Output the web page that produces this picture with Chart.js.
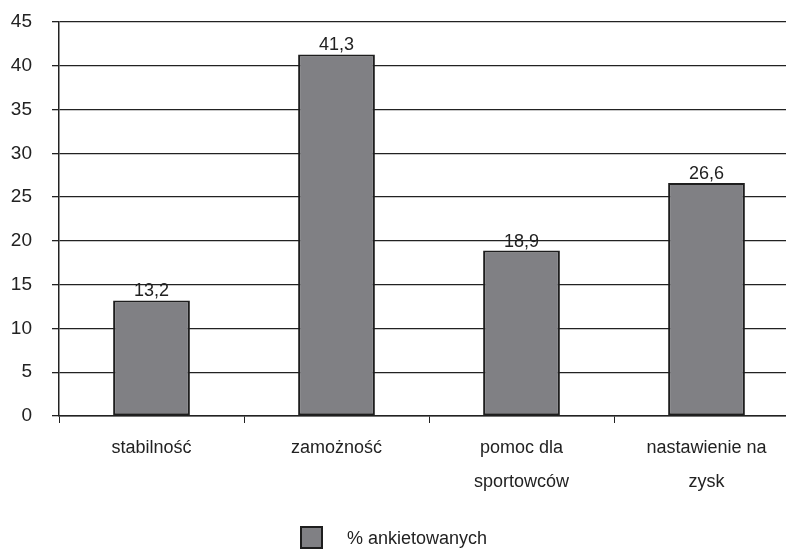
<!DOCTYPE html>
<html>
<head>
<meta charset="utf-8">
<script src="https://cdn.jsdelivr.net/npm/chart.js@4"></script>
<style>
  html, body { margin: 0; padding: 0; background: #fff; overflow: hidden; }
  #wrap { position: relative; width: 800px; height: 549px; }
</style>
</head>
<body>
<div id="wrap"><canvas id="c"></canvas></div>
<script>
const categories = ['stabilność', 'zamożność', ['pomoc dla', 'sportowców'], ['nastawienie na', 'zysk']];
const seriesName = '% ankietowanych';
const values = [13.2, 41.3, 18.9, 26.6];
const yTicks = [0, 5, 10, 15, 20, 25, 30, 35, 40, 45];

const FONT = '"Liberation Sans", Arial, sans-serif';
const BAR_FILL = '#808084';
const BAR_EDGE = '#1e1e1e';
const INK = '#222';

// value labels above bars, with a decimal comma
const valueLabels = {
  id: 'valueLabels',
  afterDatasetsDraw(chart) {
    const ctx = chart.ctx;
    const meta = chart.getDatasetMeta(0);
    ctx.save();
    ctx.font = '18px ' + FONT;
    ctx.fillStyle = INK;
    ctx.textAlign = 'center';
    ctx.textBaseline = 'alphabetic';
    meta.data.forEach((bar, i) => {
      const txt = values[i].toFixed(1).replace('.', ',');
      ctx.fillText(txt, bar.x, bar.y - 4);
    });
    ctx.restore();
  }
};

// legend row below the chart
const bottomLegend = {
  id: 'bottomLegend',
  afterDraw(chart) {
    const ctx = chart.ctx;
    ctx.save();
    ctx.fillStyle = BAR_FILL;
    ctx.strokeStyle = BAR_EDGE;
    ctx.lineWidth = 2;
    ctx.fillRect(301, 527, 21, 21);
    ctx.strokeRect(301, 527, 21, 21);
    ctx.fillStyle = INK;
    ctx.font = '18px ' + FONT;
    ctx.textAlign = 'left';
    ctx.textBaseline = 'alphabetic';
    ctx.fillText(chart.data.datasets[0].label, 347, 544);
    ctx.restore();
  }
};

new Chart(document.getElementById('c'), {
  type: 'bar',
  data: {
    labels: categories,
    datasets: [{
      label: seriesName,
      data: values,
      backgroundColor: BAR_FILL,
      borderColor: BAR_EDGE,
      borderWidth: 2,
      borderSkipped: false,
      categoryPercentage: 1,
      barPercentage: 0.415
    }]
  },
  options: {
    responsive: true,
    maintainAspectRatio: false,
    animation: false,
    devicePixelRatio: 1,
    layout: { padding: { top: 22, right: 1, bottom: 0, left: 0 } },
    plugins: {
      legend: { display: false },
      tooltip: { enabled: false }
    },
    scales: {
      x: {
        offset: true,
        grid: {
          offset: true,
          drawOnChartArea: false,
          drawTicks: true,
          tickLength: 7,
          color: INK,
          lineWidth: 1
        },
        border: { display: true, color: INK, width: 1.5 },
        ticks: {
          color: INK,
          font: { family: FONT, size: 18, lineHeight: 1.9 },
          padding: 8,
          maxRotation: 0,
          autoSkip: false
        },
        afterFit(scale) { scale.height = 549 - 416; }
      },
      y: {
        min: 0,
        max: 45,
        afterBuildTicks(scale) { scale.ticks = yTicks.map(v => ({ value: v })); },
        grid: {
          color: INK,
          lineWidth: 1.3,
          tickLength: 7,
          drawTicks: true
        },
        border: { display: true, color: INK, width: 1.5 },
        ticks: {
          color: INK,
          font: { family: FONT, size: 19 },
          padding: 20
        },
        afterFit(scale) {
          scale.width = 59;
          scale.paddingTop = 11;
          scale.paddingBottom = 11;
        }
      }
    }
  },
  plugins: [valueLabels, bottomLegend]
});
</script>
</body>
</html>
